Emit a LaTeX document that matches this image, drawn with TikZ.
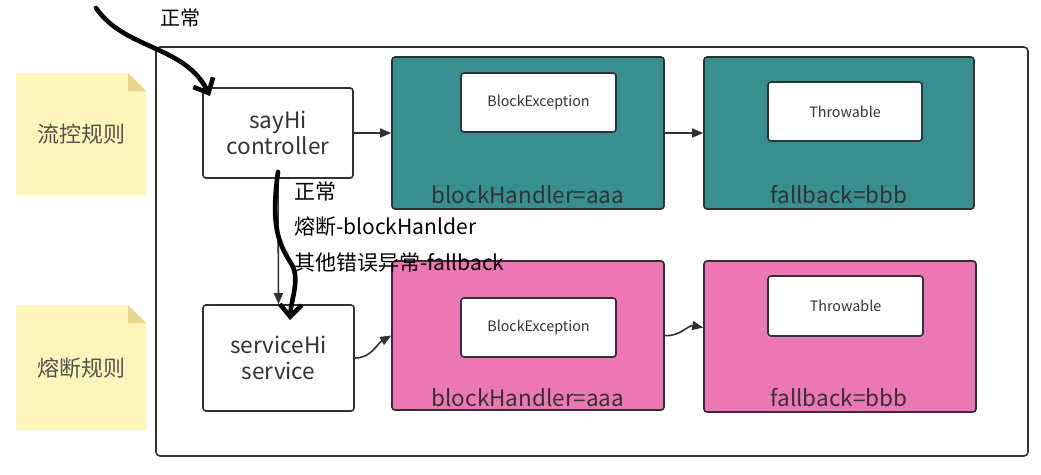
\documentclass[tikz,border=0pt]{standalone}
\usepackage{fontspec}
\setmainfont{Noto Sans CJK SC}
\usetikzlibrary{arrows.meta,calc}
\definecolor{ink}{HTML}{333333}
\definecolor{edge}{HTML}{2F3136}
\definecolor{teal}{HTML}{378F8F}
\definecolor{pinkf}{HTML}{EC77B4}
\definecolor{notef}{HTML}{FFF5BA}
\definecolor{foldf}{HTML}{E8D48A}
\tikzset{
  box/.style={draw=edge,line width=1.6pt,rounded corners=3pt,fill=white,text=ink,font=\fontsize{22.5}{26}\selectfont,align=center,inner sep=0pt},
  tealbox/.style={box,fill=teal},
  pinkbox/.style={box,fill=pinkf},
  inner/.style={box,font=\fontsize{14.3}{16}\selectfont},
  lbl/.style={text=ink,font=\fontsize{22.5}{26}\selectfont,inner sep=0pt},
  note/.style={text=ink!85,font=\fontsize{22}{26}\selectfont,inner sep=0pt},
  hand/.style={text=black,font=\fontsize{21}{25}\selectfont,inner sep=0pt,anchor=west},
  conn/.style={draw=edge,line width=1.6pt,-{Triangle[length=11pt,width=9pt]}},
  thick/.style={draw=black,line width=4.6pt,line cap=round,line join=round,-{Straight Barb[length=12pt,width=22pt]}}
}
\begin{document}
\begin{tikzpicture}[x=1pt,y=-1pt]
\useasboundingbox (0,0) rectangle (1041,474);
% notes
\fill[notef] (16,73) -- (128,73) -- (146,91) -- (146,195) -- (16,195) -- cycle;
\fill[foldf] (128,73) -- (146,91) -- (128,91) -- cycle;
\node[note] (n1) at (81,134) {流控规则};
\fill[notef] (16,305) -- (128,305) -- (146,323) -- (146,430) -- (16,430) -- cycle;
\fill[foldf] (128,305) -- (146,323) -- (128,323) -- cycle;
\node[note] (n2) at (81,368) {熔断规则};
% outer container
\draw[edge,line width=1.6pt,rounded corners=4pt] (156,47) rectangle (1028,456);
% main boxes
\node[box,minimum width=150pt,minimum height=90pt] (say) at (278,133) {sayHi\\controller};
\node[box,minimum width=151pt,minimum height=106pt] (svc) at (278.5,358) {serviceHi\\service};
\node[tealbox,minimum width=272pt,minimum height=152pt] (t1) at (528,133) {};
\node[tealbox,minimum width=270pt,minimum height=152pt] (t2) at (839,133) {};
\node[pinkbox,minimum width=272pt,minimum height=149pt] (p1) at (528,335.5) {};
\node[pinkbox,minimum width=272pt,minimum height=151pt] (p2) at (840,336.5) {};
% inner boxes
\node[inner,minimum width=155pt,minimum height=59pt] (be1) at (538.5,102.5) {BlockException};
\node[inner,minimum width=154pt,minimum height=59pt] (th1) at (845,111.5) {Throwable};
\node[inner,minimum width=155pt,minimum height=59pt] (be2) at (538.5,327.5) {BlockException};
\node[inner,minimum width=155pt,minimum height=60pt] (th2) at (845.5,306) {Throwable};
% labels
\node[lbl] (l1) at (528,195) {blockHandler=aaa};
\node[lbl] (l2) at (839,195) {fallback=bbb};
\node[lbl] (l3) at (528,398) {blockHandler=aaa};
\node[lbl] (l4) at (839,398) {fallback=bbb};
% connectors
\draw[conn] (say.east) -- (t1.west |- say.east);
\draw[conn] (t1.east) -- (t2.west);
\draw[conn] (say.south) -- (svc.north);
\draw[conn] (svc.east) to[out=0,in=-150] (p1.west);
\draw[conn] (p1.east) to[out=-5,in=170] ($(p2.west)+(0,-9)$);
% handwritten texts
\node[hand,font=\fontsize{20}{24}\selectfont] (h0) at (160,18) {正常};
\node[hand] (h1) at (294,192) {正常};
\node[hand] (h2) at (294,227) {熔断-blockHanlder};
\node[hand] (h3) at (294,263) {其他错误异常-fallback};
% thick hand arrows
\coordinate (s1) at (96,8);
\coordinate (e1) at (210,96);
\draw[thick] (s1) .. controls (125,50) and (185,45) .. (e1);
\coordinate (s2) at (278,172);
\coordinate (e2) at (290,320);
\draw[thick] (s2) .. controls (270,230) and (280,245) .. (292,265) .. controls (300,280) and (291,300) .. (e2);
\end{tikzpicture}
\end{document}
